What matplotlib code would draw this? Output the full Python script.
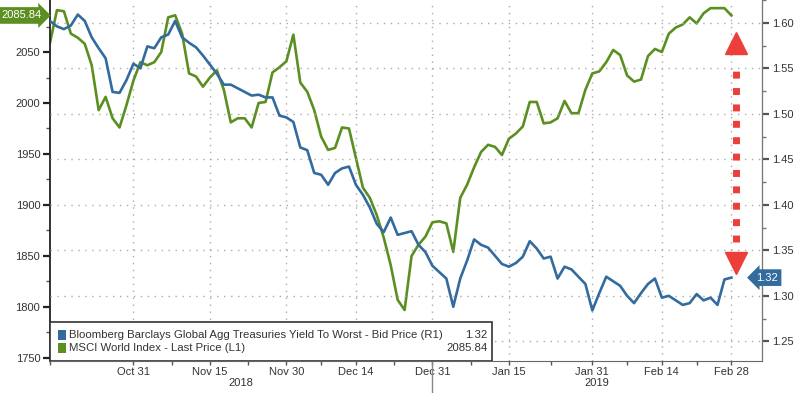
import numpy as np
import pandas as pd
import matplotlib
matplotlib.use("Agg")
import matplotlib.pyplot as plt
import matplotlib.transforms as mtransforms
from matplotlib.patches import Rectangle
from matplotlib.lines import Line2D

# business days shown on the chart
dates = pd.bdate_range("2018-10-15", "2019-02-28")

# MSCI World Index - Last Price (left axis)
msci = [2059, 2091, 2090, 2068, 2064, 2058, 2037, 1993, 2006, 1985,
        1976, 1998, 2022, 2040, 2037, 2040, 2050, 2084, 2086, 2068,
        2029, 2026, 2016, 2025, 2032, 2013, 1981, 1985, 1985, 1976,
        2000, 2001, 2030, 2035, 2041, 2067, 2020, 2011, 1993, 1967,
        1954, 1956, 1976, 1975, 1946, 1917, 1907, 1890, 1868, 1841,
        1807, 1797, 1850, 1861, 1869, 1883, 1884, 1882, 1854, 1907,
        1920, 1937, 1952, 1959, 1957, 1949, 1965, 1970, 1977, 2001,
        2001, 1980, 1981, 1985, 2002, 1990, 1990, 2013, 2029, 2031,
        2040, 2052, 2047, 2027, 2021, 2023, 2046, 2053, 2050, 2068,
        2074, 2077, 2084, 2078, 2088, 2093, 2093, 2093, 2085.84]

# Bloomberg Barclays Global Agg Treasuries Yield To Worst (right axis)
yld = [1.602, 1.596, 1.593, 1.597, 1.609, 1.602, 1.584, 1.572, 1.561, 1.524,
       1.523, 1.537, 1.555, 1.550, 1.574, 1.572, 1.584, 1.587, 1.602, 1.584,
       1.578, 1.573, 1.564, 1.554, 1.544, 1.532, 1.532, 1.528, 1.524, 1.520,
       1.521, 1.518, 1.518, 1.498, 1.496, 1.491, 1.463, 1.460, 1.435, 1.433,
       1.422, 1.435, 1.440, 1.442, 1.422, 1.411, 1.397, 1.379, 1.370, 1.386,
       1.367, 1.369, 1.371, 1.356, 1.348, 1.333, 1.326, 1.319, 1.288, 1.319,
       1.339, 1.362, 1.356, 1.353, 1.344, 1.335, 1.332, 1.336, 1.343, 1.360,
       1.352, 1.341, 1.343, 1.319, 1.332, 1.329, 1.321, 1.313, 1.284, 1.303,
       1.321, 1.316, 1.311, 1.300, 1.292, 1.303, 1.313, 1.319, 1.298, 1.300,
       1.295, 1.290, 1.292, 1.302, 1.295, 1.298, 1.290, 1.318, 1.32]

tick_dates = ["2018-10-31", "2018-11-15", "2018-11-30", "2018-12-14", "2018-12-31",
              "2019-01-15", "2019-01-31", "2019-02-14", "2019-02-28"]
tick_labels = ["Oct 31", "Nov 15", "Nov 30", "Dec 14", "Dec 31",
               "Jan 15", "Jan 31", "Feb 14", "Feb 28"]
years = ["2018", "2019"]
left_ticks = [1750, 1800, 1850, 1900, 1950, 2000, 2050]
right_ticks = [1.25, 1.30, 1.35, 1.40, 1.45, 1.50, 1.55, 1.60]

legend_names = ["Bloomberg Barclays Global Agg Treasuries Yield To Worst - Bid Price (R1)",
                "MSCI World Index - Last Price (L1)"]

plt.rcParams['font.family'] = ['Liberation Sans', 'DejaVu Sans']
plt.rcParams['font.size'] = 7.5

green = "#5b8f22"
blue = "#336b9e"
red = "#ec3f3b"
txt = "#333333"

fig = plt.figure(figsize=(8, 3.93), dpi=100)
ax = fig.add_axes([50 / 800, 1 - 361 / 393, 712 / 800, 361 / 393])
ax2 = ax.twinx()

x = np.arange(len(dates))
ax.plot(x, msci, color=green, lw=1.9, solid_joinstyle="round")
ax2.plot(x, yld, color=blue, lw=1.9, solid_joinstyle="round")

ax.set_xlim(0, 102.4)
ax.set_ylim(1747, 2101)
ax2.set_ylim(1.2284, 1.6182)

tick_pos = [dates.get_loc(pd.Timestamp(d)) for d in tick_dates]
minor_pos = [0] + [(a + b) / 2 for a, b in zip(tick_pos[:-1], tick_pos[1:])]
ax.set_xticks(tick_pos)
ax.set_xticklabels(tick_labels)
ax.set_xticks(minor_pos, minor=True)
ax.set_yticks(left_ticks)
ax.set_yticks([v + 25 for v in left_ticks], minor=True)
ax2.set_yticks(right_ticks)
ax2.set_yticklabels([f"{v:.2f}" for v in right_ticks])
ax2.set_yticks([v + 0.025 for v in right_ticks], minor=True)

ax.tick_params(axis="x", which="major", length=3, width=1, colors="#555555",
               labelcolor=txt, pad=1, labelsize=8)
ax.tick_params(axis="x", which="minor", length=3, width=1, colors="#555555")
ax.tick_params(axis="y", which="major", length=5, width=1.6, colors="#222222",
               labelcolor=txt, pad=2, labelsize=8)
ax.tick_params(axis="y", which="minor", length=3, width=1, colors="#555555")
ax2.tick_params(axis="y", which="major", length=5, width=1.6, colors="#555555",
                labelcolor=txt, pad=2, labelsize=8)
ax2.tick_params(axis="y", which="minor", length=3, width=1, colors="#777777")

for a in (ax, ax2):
    a.spines["top"].set_visible(False)
ax.spines["left"].set_color("#222222")
ax.spines["left"].set_linewidth(1.3)
ax.spines["bottom"].set_color("#666666")
ax2.spines["right"].set_color("#777777")
ax2.spines["left"].set_visible(False)
ax2.spines["bottom"].set_visible(False)

ax.grid(axis="x", which="major", color="#aaaaaa", linestyle=(0, (1, 4)), lw=1)
ax2.grid(axis="y", which="major", color="#aaaaaa", linestyle=(0, (1, 4)), lw=1)

# year labels and separator
sep = tick_pos[4]
trans_x = mtransforms.blended_transform_factory(ax.transData, ax.transAxes)
ax.add_line(Line2D([sep, sep], [0, -0.09], transform=trans_x, color="#888888",
                   lw=1, clip_on=False))
ax.text(sep / 2, -0.048, years[0], transform=trans_x, ha="center", va="top",
        color=txt, fontsize=8)
ax.text((sep + 102.4) / 2, -0.048, years[1], transform=trans_x, ha="center",
        va="top", color=txt, fontsize=8)

# last value labels
trans_l = mtransforms.blended_transform_factory(ax.transAxes, ax.transData)
ax.text(-0.012, msci[-1], f"{msci[-1]:.2f}", transform=trans_l, ha="right",
        va="center", color="white", fontsize=8, clip_on=False,
        bbox=dict(boxstyle="rarrow,pad=0.3", fc=green, ec="none"))
trans_r = mtransforms.blended_transform_factory(ax2.transAxes, ax2.transData)
ax2.text(0.992, yld[-1], f"{yld[-1]:.2f}", transform=trans_r, ha="left",
         va="center", color="white", fontsize=8, clip_on=False, zorder=7,
         bbox=dict(boxstyle="larrow,pad=0.3", fc=blue, ec="none"))

# red dotted double arrow
xa = x[-1] + 0.6
ax2.plot([xa, xa], [1.359, 1.557], color=red, lw=5, linestyle=(0, (1, 1.36)),
         solid_capstyle="butt")
ax2.plot([xa], [1.5778], marker="^", markersize=16, color=red, lw=0)
ax2.plot([xa], [1.3359], marker="v", markersize=16, color=red, lw=0)

# legend box
ax2.add_patch(Rectangle((0, 0), 0.621, 0.108, transform=ax2.transAxes,
                        fc="white", ec="#333333", lw=1.2, zorder=5))
rows = [(0.072, blue, legend_names[0], f"{yld[-1]:.2f}"),
        (0.036, green, legend_names[1], f"{msci[-1]:.2f}")]
for yy, c, name, val in rows:
    ax2.add_patch(Rectangle((0.011, yy - 0.013), 0.0115, 0.026,
                            transform=ax2.transAxes, fc=c, ec="none", zorder=6))
    ax2.text(0.027, yy, name, transform=ax2.transAxes, ha="left", va="center",
             color=txt, zorder=6, fontsize=8.2)
    ax2.text(0.614, yy, val, transform=ax2.transAxes, ha="right", va="center",
             color=txt, zorder=6, fontsize=8.2)

fig.savefig("out.png", dpi=100)
